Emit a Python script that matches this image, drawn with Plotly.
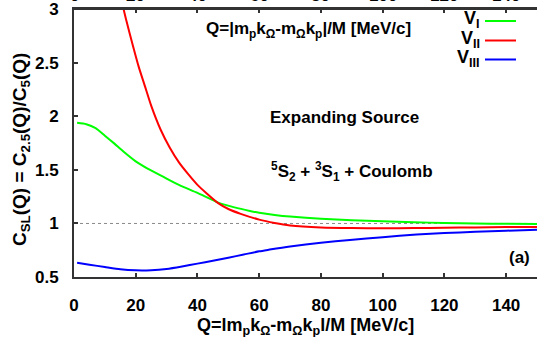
import plotly.graph_objects as go

# ---- data ----
Q_V1 = [1, 4, 7, 10, 13, 16, 20, 24, 29, 34, 40, 46.7, 52, 57, 60, 65, 70, 80, 90, 100, 110, 120, 130, 140, 150]
V1 = [1.94, 1.927, 1.89, 1.82, 1.748, 1.672, 1.58, 1.51, 1.435, 1.36, 1.285, 1.195, 1.15, 1.117, 1.10, 1.08,
      1.065, 1.045, 1.03, 1.02, 1.011, 1.005, 1.0, 0.997, 0.995]
Q_V2 = [15.5, 17, 19, 21, 23, 25, 28, 31, 34, 37, 40, 43, 46.7, 50, 54, 60, 65, 70, 80, 90, 100, 110, 120, 130, 140, 150]
V2 = [3.07, 2.89, 2.67, 2.46, 2.28, 2.10, 1.88, 1.71, 1.57, 1.46, 1.36, 1.28, 1.19, 1.135, 1.09, 1.036, 1.005,
      0.982, 0.963, 0.957, 0.956, 0.957, 0.96, 0.963, 0.966, 0.968]
Q_V3 = [1, 5, 10, 15, 20, 25, 30, 35, 40, 45, 50, 55, 60, 63.4, 70, 80, 89.4, 100, 111, 120, 130, 140, 150]
V3 = [0.634, 0.615, 0.593, 0.572, 0.562, 0.563, 0.575, 0.598, 0.625, 0.652, 0.68, 0.71, 0.74, 0.756, 0.785,
      0.82, 0.845, 0.872, 0.896, 0.91, 0.922, 0.932, 0.942]

SERIES_NAMES = ["V<sub>I</sub>", "V<sub>II</sub>", "V<sub>III</sub>"]
SERIES_COLORS = ["#00ff00", "#ff0000", "#0000ff"]
X_TICKS = [0, 20, 40, 60, 80, 100, 120, 140]
X_TICK_TEXT = ["0", "20", "40", "60", "80", "100", "120", "140"]
Y_TICKS = [0.5, 1, 1.5, 2, 2.5, 3]
Y_TICK_TEXT = ["0.5", "1", "1.5", "2", "2.5", "3"]
REF_LEVEL = 1.0

X_TITLE = "Q=lm<sub>p</sub>k<sub>Ω</sub>-m<sub>Ω</sub>k<sub>p</sub>l/M [MeV/c]"
TOP_TITLE = "Q=|m<sub>p</sub>k<sub>Ω</sub>-m<sub>Ω</sub>k<sub>p</sub>|/M [MeV/c]"
Y_TITLE = "C<sub>SL</sub>(Q) = C<sub>2.5</sub>(Q)/C<sub>5</sub>(Q)"

# ---- layout geometry ----
W, H = 537, 337
ML, MR, MT, MB = 74, 0, 9, 60
PW, PH = W - ML - MR, H - MT - MB


def px(x):
    return (x - ML) / PW


def py(y):
    return (H - MB - y) / PH


FONT = "Liberation Sans, Arial, Helvetica, sans-serif"

fig = go.Figure()
for qs, vs, name, col in zip([Q_V1, Q_V2, Q_V3], [V1, V2, V3], SERIES_NAMES, SERIES_COLORS):
    fig.add_trace(go.Scatter(x=qs, y=vs, mode="lines", name=name,
                             line=dict(color=col, width=2, shape="spline", smoothing=0.6),
                             showlegend=False))

tickfont = dict(family=FONT, size=17, color="black", weight="bold")
axis_common = dict(showgrid=False, zeroline=False, ticks="inside", ticklen=4, tickwidth=1.5,
                   tickcolor="#333", linecolor="#333", linewidth=2, showline=True, automargin=False,
                   tickfont=tickfont)

fig.update_layout(
    width=W, height=H, margin=dict(l=ML, r=MR, t=MT, b=MB, autoexpand=False),
    plot_bgcolor="white", paper_bgcolor="white",
    xaxis=dict(range=[0, 150], tickvals=X_TICKS, ticktext=X_TICK_TEXT, ticklabelstandoff=12,
               mirror="ticks", **axis_common),
    yaxis=dict(range=[0.5, 3.003], tickvals=Y_TICKS, ticktext=Y_TICK_TEXT, ticklabelstandoff=10,
               **axis_common),
)

# top-axis tick labels (cut off by the page edge, as in the reference)
for xv, xt in zip(X_TICKS, X_TICK_TEXT):
    fig.add_annotation(x=xv, y=1, xref="x", yref="paper", text=xt, showarrow=False,
                       xanchor="center", yanchor="bottom", yshift=2, font=tickfont)

# top frame line (ensure it is drawn above everything)
fig.add_shape(type="line", xref="paper", yref="paper", x0=0, x1=1, y0=1, y1=1,
              line=dict(color="#333", width=2), layer="above")

# reference line at 1
fig.add_shape(type="line", xref="paper", yref="y", x0=0, x1=1, y0=REF_LEVEL, y1=REF_LEVEL,
              line=dict(color="#888", width=1, dash="dot"), layer="below")

bold = dict(family=FONT, size=17, color="black", weight="bold")

# legend (manual, gnuplot style)
leg_y = [21, 40.5, 59.5]
for name, col, yy in zip(SERIES_NAMES, SERIES_COLORS, leg_y):
    fig.add_annotation(x=px(482), y=py(yy - 1), xref="paper", yref="paper", text=name,
                       showarrow=False, xanchor="right", yanchor="middle",
                       font=dict(family=FONT, size=18, color="black", weight="bold"))
    fig.add_shape(type="line", xref="paper", yref="paper", x0=px(485), x1=px(516),
                  y0=py(yy), y1=py(yy), line=dict(color=col, width=2))

fig.add_annotation(x=px(308), y=py(30), xref="paper", yref="paper", text=TOP_TITLE,
                   showarrow=False, xanchor="center", yanchor="middle", font=bold)
fig.add_annotation(x=px(344), y=py(117), xref="paper", yref="paper", text="Expanding Source",
                   showarrow=False, xanchor="center", yanchor="middle", font=bold)
fig.add_annotation(x=px(352), y=py(171), xref="paper", yref="paper",
                   text="<sup>5</sup>S<sub>2</sub> + <sup>3</sup>S<sub>1</sub> + Coulomb",
                   showarrow=False, xanchor="center", yanchor="middle", font=bold)
fig.add_annotation(x=px(519), y=py(257), xref="paper", yref="paper", text="(a)",
                   showarrow=False, xanchor="center", yanchor="middle", font=bold)

# axis titles
fig.add_annotation(x=px(305), y=py(326), xref="paper", yref="paper", text=X_TITLE,
                   showarrow=False, xanchor="center", yanchor="middle",
                   font=dict(family=FONT, size=18, color="black", weight="bold"))
fig.add_annotation(x=px(21), y=py(150), xref="paper", yref="paper", text=Y_TITLE,
                   showarrow=False, xanchor="center", yanchor="middle", textangle=-90,
                   font=dict(family=FONT, size=19, color="black", weight="bold"))

fig.write_html("out.html", config={"displayModeBar": False},
               post_script="document.body.style.margin='0';document.body.style.overflow='hidden';")
